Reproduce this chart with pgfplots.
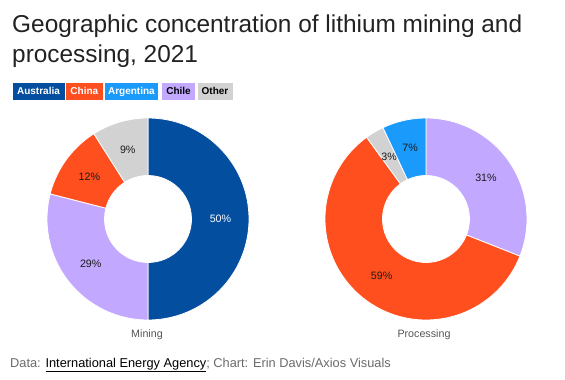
\documentclass[border=0pt]{standalone}
\usepackage{pgfplots}
\pgfplotsset{compat=1.18}
\usepackage{fontspec}
\setmainfont{Liberation Sans}
\definecolor{ausblue}{HTML}{034E9F}
\definecolor{chinared}{HTML}{FF4F1E}
\definecolor{argblue}{HTML}{1A9BFC}
\definecolor{chilepurple}{HTML}{C2A9FF}
\definecolor{othergray}{HTML}{D1D2D1}
\definecolor{titlegray}{HTML}{222222}
\definecolor{labgray}{HTML}{555555}
\definecolor{footgray}{HTML}{6A6A6A}
\definecolor{slicetext}{HTML}{1A1A1A}
\def\outerR{101pt}
\def\innerR{43.5pt}
\pgfdeclareplotmark{donutslice}{%
  \pgfmathsetmacro\angA{90-3.6*\slicestart}%
  \pgfmathsetmacro\angB{90-3.6*(\slicestart+\sliceval)}%
  \pgfsetfillcolor{\slicecol}%
  \pgfsetstrokecolor{white}%
  \pgfsetlinewidth{0.8pt}%
  \pgfsetroundjoin
  \pgfpathmoveto{\pgfpointpolar{\angA}{\outerR}}%
  \pgfpatharc{\angA}{\angB}{\outerR}%
  \pgfpathlineto{\pgfpointpolar{\angB}{\innerR}}%
  \pgfpatharc{\angB}{\angA}{\innerR}%
  \pgfpathclose
  \pgfusepathqfillstroke
}
\pgfplotsset{
  donut/.style={
    only marks, mark=donutslice,
    visualization depends on={value \thisrow{start} \as \slicestart},
    visualization depends on={value \thisrow{val} \as \sliceval},
    visualization depends on={value \thisrow{col} \as \slicecol},
    visualization depends on={value \thisrow{lab} \as \labcol},
    nodes near coords={\sliceval\%},
    every node near coord/.append style={anchor=center, inner sep=0pt,
      font=\fontsize{10.7}{12}\selectfont, text=\labcol,
      shift={({90-3.6*(\slicestart+0.5*\sliceval)}:72.5pt)}},
  }
}
\begin{document}
\begin{tikzpicture}
\begin{axis}[width=565pt,height=380pt,scale only axis,
  xmin=0,xmax=565,ymin=0,ymax=380,hide axis,clip=false]
% Mining
\addplot[donut] table[x=x,y=y] {
x y start val col lab
148 161 0 50 ausblue white
148 161 50 29 chilepurple slicetext
148 161 79 12 chinared slicetext
148 161 91 9 othergray slicetext
};
% Processing
\addplot[donut] table[x=x,y=y] {
x y start val col lab
426 161 0 31 chilepurple slicetext
426 161 31 59 chinared slicetext
426 161 90 3 othergray slicetext
426 161 93 7 argblue slicetext
};
% title
\node[anchor=base west, inner sep=0pt, text=titlegray, font=\fontsize{24.4}{29}\selectfont]
  at (axis cs:12,347) {Geographic concentration of lithium mining and};
\node[anchor=base west, inner sep=0pt, text=titlegray, font=\fontsize{24.4}{29}\selectfont]
  at (axis cs:12,317) {processing, 2021};
% legend
\tikzset{lgd/.style={anchor=west, inner sep=0pt, minimum height=16.5pt,
  text height=7.2pt, text depth=0pt, font=\bfseries\fontsize{10}{12}\selectfont}}
\node[lgd, fill=ausblue, text=white, minimum width=52pt] at (axis cs:12.3,288.7) {Australia};
\node[lgd, fill=chinared, text=white, minimum width=36.3pt] at (axis cs:66,288.7) {China};
\node[lgd, fill=argblue, text=white, minimum width=53pt] at (axis cs:104.7,288.7) {Argentina};
\node[lgd, fill=chilepurple, text=black, minimum width=33.3pt] at (axis cs:161.7,288.7) {Chile};
\node[lgd, fill=othergray, text=black, minimum width=35pt] at (axis cs:197.3,288.7) {Other};
% donut labels
\node[anchor=base, inner sep=0pt, text=labgray, font=\fontsize{10.7}{12}\selectfont]
  at (axis cs:147,42) {Mining};
\node[anchor=base, inner sep=0pt, text=labgray, font=\fontsize{10.7}{12}\selectfont]
  at (axis cs:424,42) {Processing};
% footer
\node[anchor=base west, inner sep=0pt, text=footgray, font=\fontsize{12.8}{14}\selectfont]
  at (axis cs:10,12.7) {Data: \textcolor{black}{\underline{International Energy Agency}}; Chart: Erin Davis/Axios Visuals};
\end{axis}
\path (current axis.south west) rectangle (current axis.north east);
\end{tikzpicture}
\end{document}
